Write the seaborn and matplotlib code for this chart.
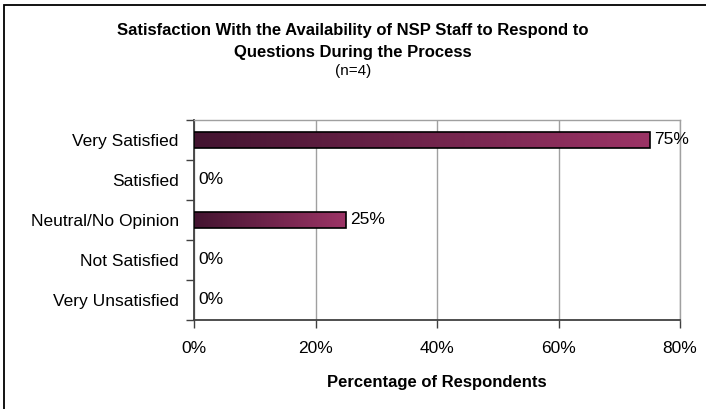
import numpy as np
import pandas as pd
import seaborn as sns
import matplotlib.pyplot as plt
from matplotlib.colors import LinearSegmentedColormap
from matplotlib.patches import Rectangle
from matplotlib.ticker import FixedLocator

# survey answers, share of respondents in percent
categories = ["Very Satisfied", "Satisfied", "Neutral/No Opinion",
              "Not Satisfied", "Very Unsatisfied"]
percents = [75, 0, 25, 0, 0]
xticks = [0, 20, 40, 60, 80]
xtick_labels = ["0%", "20%", "40%", "60%", "80%"]

sns.set_style("white")
plt.rcParams["font.family"] = ["Liberation Sans", "DejaVu Sans"]
plt.rcParams["text.color"] = "black"
plt.rcParams["axes.labelcolor"] = "black"
plt.rcParams["xtick.color"] = "black"
plt.rcParams["ytick.color"] = "black"

df = pd.DataFrame({"answer": categories, "pct": percents})

fig = plt.figure(figsize=(7.06, 4.09), dpi=100)
ax = fig.add_axes([194 / 706, 89 / 409, 486 / 706, 200 / 409])

sns.barplot(data=df, x="pct", y="answer", orient="h", width=0.42,
            color="#7a2850", edgecolor="black", linewidth=1.2, ax=ax)

# horizontal gradient fill, dark plum to magenta, per bar
grad = LinearSegmentedColormap.from_list("plum", ["#431430", "#9c3466"])
g = np.linspace(0, 1, 256).reshape(1, -1)
for p in ax.patches:
    w = p.get_width()
    if w <= 0:
        p.set_linewidth(0)
        continue
    x0, y0, h = p.get_x(), p.get_y(), p.get_height()
    im = ax.imshow(g, cmap=grad, aspect="auto", extent=[x0, x0 + w, y0 + h, y0],
                   zorder=p.get_zorder() - 0.1)
    im.set_clip_path(p)
    p.set_facecolor("none")
    p.set_zorder(3)

for i, v in enumerate(percents):
    ax.text(v + 0.7, i, f"{v}%", va="center", ha="left", fontsize=12.5)

ax.set_xlim(0, 80)
ax.set_ylim(4.5, -0.5)
ax.set_xticks(xticks)
ax.set_xticklabels(xtick_labels, fontsize=12.5)
ax.tick_params(axis="x", bottom=True, length=6, width=1, color="#404040", pad=9, direction="out")
ax.tick_params(axis="y", which="major", left=False, length=0, pad=11, labelsize=12.5)
ax.yaxis.set_minor_locator(FixedLocator(np.arange(-0.5, 5, 1)))
ax.tick_params(axis="y", which="minor", left=True, length=6, width=1, color="#404040", direction="out")
ax.set_ylabel("")
ax.set_xlabel("Percentage of Respondents", fontsize=12, fontweight="bold", labelpad=14)

ax.xaxis.grid(True, color="#a0a0a0", linewidth=1)
ax.set_axisbelow(True)
for side in ["top", "right"]:
    ax.spines[side].set_color("#a0a0a0")
    ax.spines[side].set_linewidth(1)
for side in ["left", "bottom"]:
    ax.spines[side].set_color("#404040")
    ax.spines[side].set_linewidth(1.3)

fig.text(0.5, 1 - 31 / 409, "Satisfaction With the Availability of NSP Staff to Respond to",
         ha="center", va="center", fontsize=12, fontweight="bold")
fig.text(0.5, 1 - 52 / 409, "Questions During the Process",
         ha="center", va="center", fontsize=12, fontweight="bold")
fig.text(0.5, 1 - 71 / 409, "(n=4)", ha="center", va="center", fontsize=11)

fig.add_artist(Rectangle((4 / 706, -0.1), 1.2, 1.1 - 5 / 409, transform=fig.transFigure,
                         fill=False, edgecolor="black", linewidth=1.3))

fig.savefig("out.png", dpi=100)
